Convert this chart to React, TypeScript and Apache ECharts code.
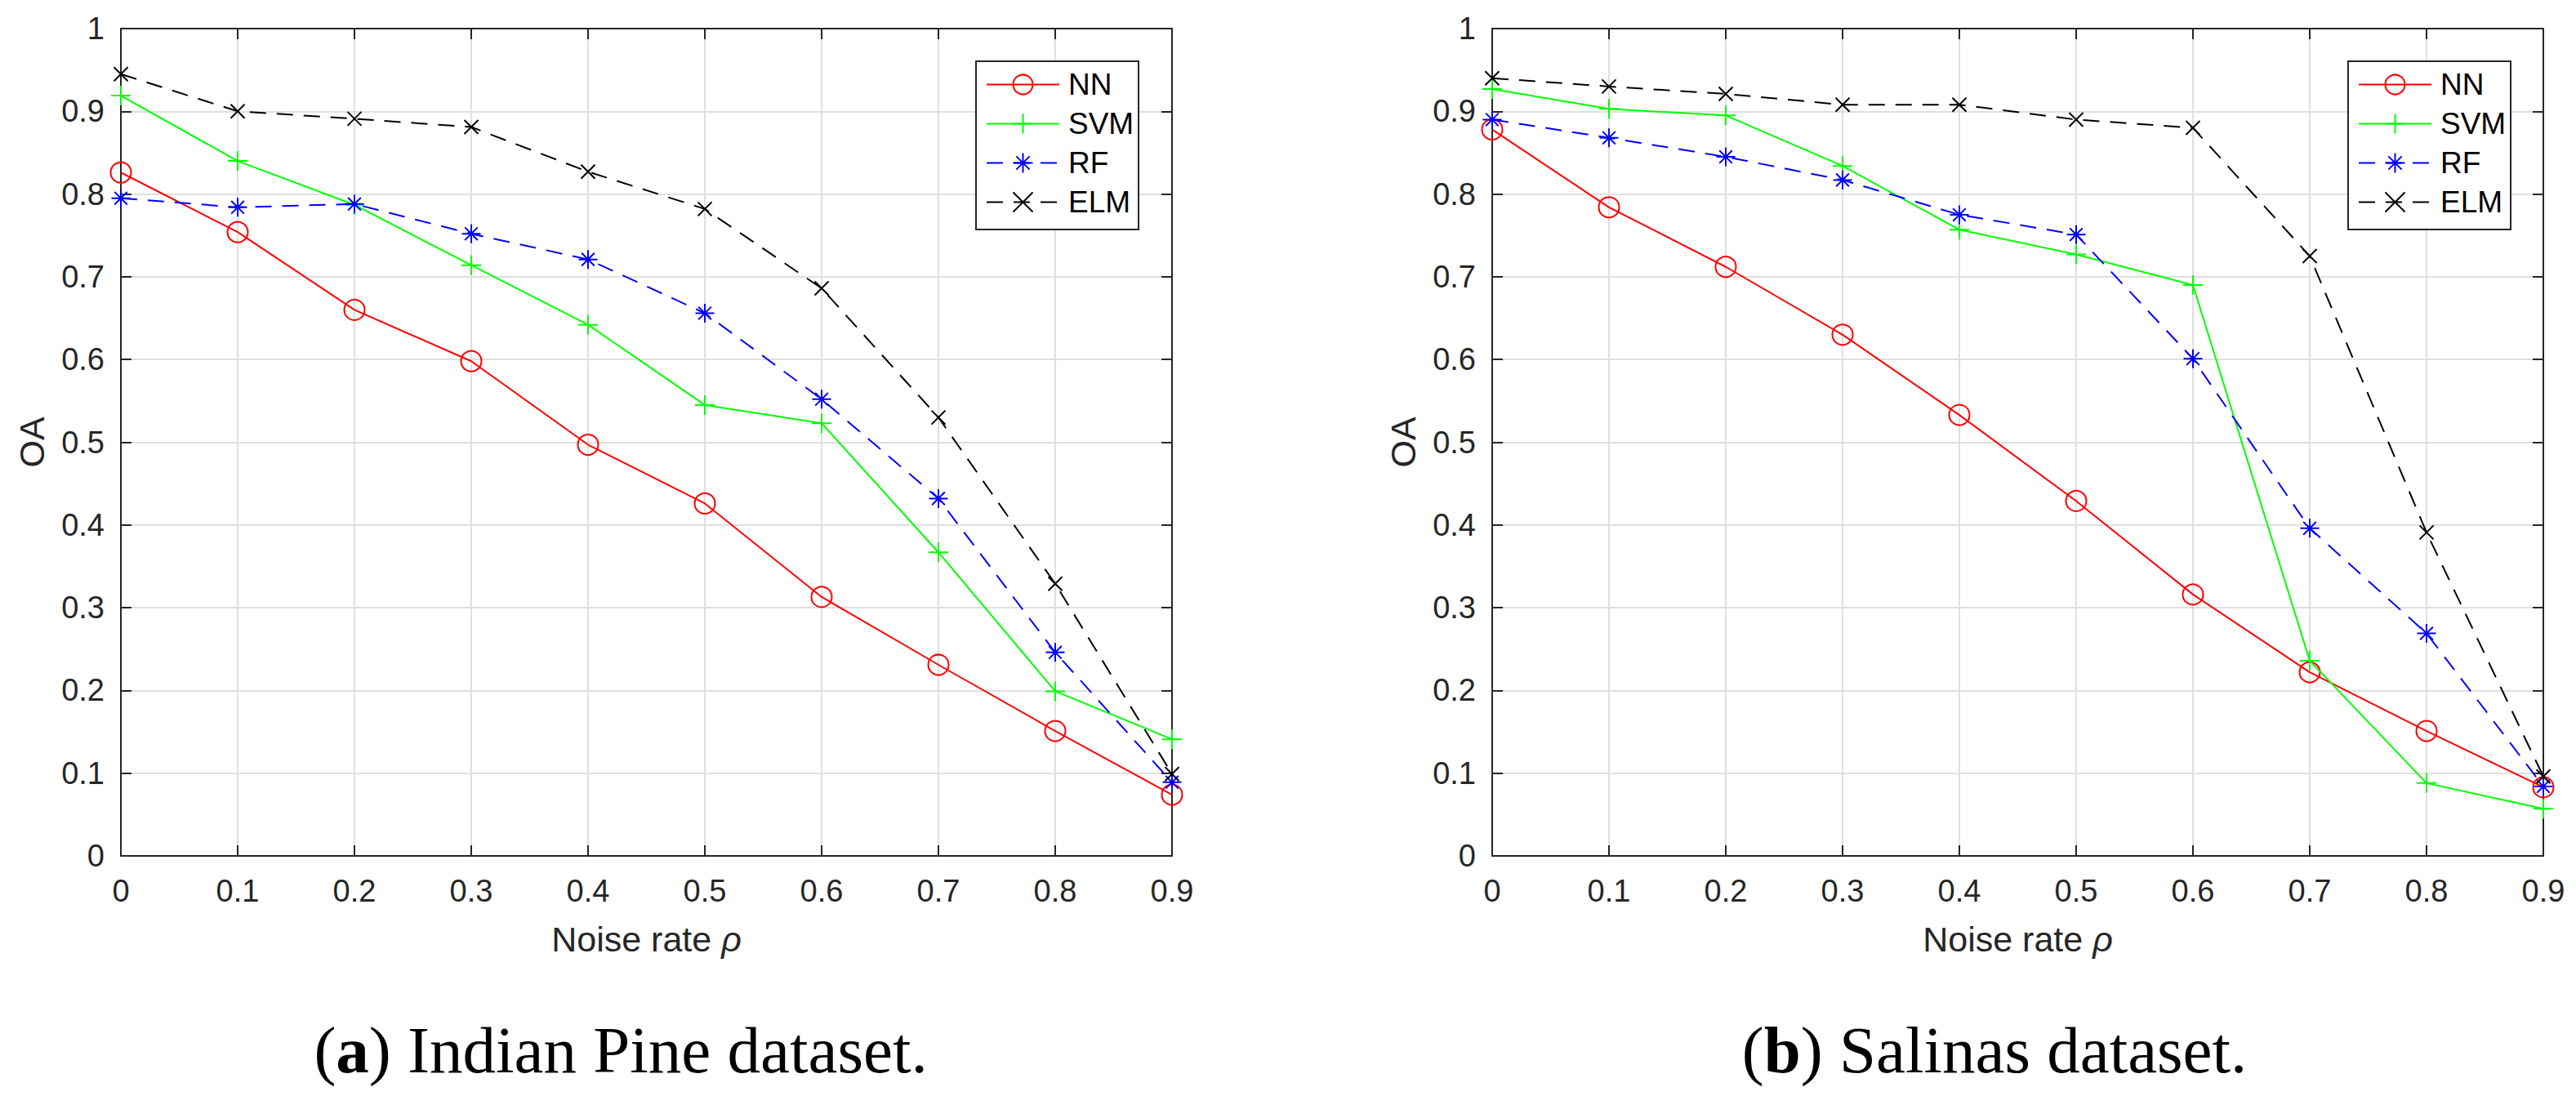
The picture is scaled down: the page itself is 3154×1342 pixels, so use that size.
import React, { useEffect, useRef } from "react";
import * as echarts from "echarts";

const noiseRates = [0, 0.1, 0.2, 0.3, 0.4, 0.5, 0.6, 0.7, 0.8, 0.9];
const seriesNames = ["NN", "SVM", "RF", "ELM"];

// (a) Indian Pine dataset
const nnIndian = [0.826, 0.754, 0.66, 0.598, 0.497, 0.426, 0.313, 0.231, 0.151, 0.074];
const svmIndian = [0.919, 0.84, 0.787, 0.714, 0.642, 0.545, 0.523, 0.367, 0.199, 0.141];
const rfIndian = [0.795, 0.784, 0.788, 0.752, 0.721, 0.656, 0.552, 0.432, 0.246, 0.089];
const elmIndian = [0.945, 0.9, 0.891, 0.881, 0.827, 0.782, 0.686, 0.53, 0.329, 0.099];

// (b) Salinas dataset
const nnSalinas = [0.878, 0.784, 0.712, 0.63, 0.533, 0.429, 0.316, 0.222, 0.151, 0.083];
const svmSalinas = [0.927, 0.903, 0.895, 0.834, 0.757, 0.727, 0.69, 0.236, 0.088, 0.057];
const rfSalinas = [0.89, 0.868, 0.845, 0.817, 0.775, 0.751, 0.601, 0.396, 0.269, 0.084];
const elmSalinas = [0.94, 0.93, 0.921, 0.908, 0.908, 0.89, 0.88, 0.725, 0.391, 0.096];

const captionLetters = ["a", "b"];
const captionTexts = [") Indian Pine dataset.", ") Salinas dataset."];

const AX = "#262626";
const GRID = "#dfdfdf";
const SANS = "Liberation Sans";

const styles: Record<string, any> = {
  NN: { color: "#ff0000", symbol: "circle", size: 25, dash: "solid" },
  SVM: { color: "#00ff00", symbol: "path://M0,5L10,5M5,0L5,10", size: 24, dash: "solid" },
  RF: {
    color: "#0000ff",
    symbol: "path://M0,5L10,5M5,0L5,10M1.6,1.6L8.4,8.4M1.6,8.4L8.4,1.6",
    size: 23,
    dash: [20, 13],
  },
  ELM: { color: "#000000", symbol: "path://M0,0L10,10M0,10L10,0", size: 17, dash: [20, 13] },
};

const fmt = (v: number) => String(Math.round(v * 10) / 10);

export default function App() {
  const ref = useRef<HTMLDivElement>(null);
  useEffect(() => {
    if (!ref.current) return;
    const chart = echarts.init(ref.current, undefined, { renderer: "svg" });
    const gridLefts = [148, 1827];
    const gridTop = 35;
    const gridW = 1287;
    const gridH = 1013;

    const grids = gridLefts.map((l) => ({ left: l, top: gridTop, width: gridW, height: gridH }));
    const xAxes: any[] = [];
    const yAxes: any[] = [];
    gridLefts.forEach((_, g) => {
      xAxes.push({
        type: "value",
        gridIndex: g,
        min: 0,
        max: 0.9,
        interval: 0.1,
        position: "bottom",
        name: "{a|Noise rate }{b|ρ}",
        nameLocation: "middle",
        nameGap: 80,
        nameTextStyle: {
          rich: {
            a: { fontFamily: SANS, fontSize: 43, color: AX },
            b: { fontFamily: SANS, fontSize: 43, color: AX, fontStyle: "italic" },
          },
        },
        axisLine: { show: true, onZero: false, lineStyle: { color: AX, width: 2 } },
        axisTick: { show: true, inside: true, length: 13, lineStyle: { color: AX, width: 2 } },
        axisLabel: { fontFamily: SANS, fontSize: 38, color: AX, margin: 24, formatter: fmt },
        splitLine: { show: true, lineStyle: { color: GRID, width: 2 } },
      });
      xAxes.push({
        type: "value",
        gridIndex: g,
        min: 0,
        max: 0.9,
        interval: 0.1,
        position: "top",
        axisLine: { show: true, onZero: false, lineStyle: { color: AX, width: 2 } },
        axisTick: { show: true, inside: true, length: 13, lineStyle: { color: AX, width: 2 } },
        axisLabel: { show: false },
        splitLine: { show: false },
      });
      yAxes.push({
        type: "value",
        gridIndex: g,
        min: 0,
        max: 1,
        interval: 0.1,
        position: "left",
        name: "OA",
        nameLocation: "middle",
        nameGap: 88,
        nameTextStyle: { fontFamily: SANS, fontSize: 43, color: AX },
        axisLine: { show: true, onZero: false, lineStyle: { color: AX, width: 2 } },
        axisTick: { show: true, inside: true, length: 13, lineStyle: { color: AX, width: 2 } },
        axisLabel: { fontFamily: SANS, fontSize: 38, color: AX, margin: 20, formatter: fmt },
        splitLine: { show: true, lineStyle: { color: GRID, width: 2 } },
      });
      yAxes.push({
        type: "value",
        gridIndex: g,
        min: 0,
        max: 1,
        interval: 0.1,
        position: "right",
        axisLine: { show: true, onZero: false, lineStyle: { color: AX, width: 2 } },
        axisTick: { show: true, inside: true, length: 13, lineStyle: { color: AX, width: 2 } },
        axisLabel: { show: false },
        splitLine: { show: false },
      });
    });

    const datasets = [
      [nnIndian, svmIndian, rfIndian, elmIndian],
      [nnSalinas, svmSalinas, rfSalinas, elmSalinas],
    ];
    const series: any[] = [];
    datasets.forEach((set, g) => {
      set.forEach((vals, i) => {
        const name = seriesNames[i];
        const s = styles[name];
        series.push({
          type: "line",
          name,
          xAxisIndex: g * 2,
          yAxisIndex: g * 2,
          data: noiseRates.map((x, k) => [x, vals[k]]),
          symbol: s.symbol,
          symbolSize: s.size,
          showAllSymbol: true,
          itemStyle: { color: "transparent", borderColor: s.color, borderWidth: 2 },
          lineStyle: { color: s.color, width: 2, type: s.dash },
          emphasis: { disabled: true },
          z: 2 + i,
          clip: false,
        });
      });
    });

    const legendBoxes = [1195, 2875];
    const legends = legendBoxes.map((bx) => ({
      show: true,
      orient: "vertical",
      left: bx + 12,
      top: 85,
      padding: 0,
      itemGap: 11,
      itemWidth: 89,
      itemHeight: 30,
      data: seriesNames,
      selectedMode: false,
      z: 10,
      textStyle: { fontFamily: SANS, fontSize: 37, color: "#000", padding: [0, 0, 0, 6] },
    }));

    const graphics: any[] = [];
    legendBoxes.forEach((bx) => {
      graphics.push({
        type: "rect",
        shape: { x: bx, y: 75, width: 199, height: 206 },
        style: { fill: "#ffffff", stroke: AX, lineWidth: 2 },
        z: 8,
      });
    });
    const capCenters = [760, 2442];
    capCenters.forEach((cx, i) => {
      graphics.push({
        type: "text",
        x: cx,
        y: 1286,
        z: 10,
        style: {
          text: `{p|(}{b|${captionLetters[i]}}{p|${captionTexts[i]}}`,
          align: "center",
          verticalAlign: "middle",
          rich: {
            p: { fontFamily: "Liberation Serif", fontSize: 81, fill: "#000" },
            b: { fontFamily: "Liberation Serif", fontSize: 81, fontWeight: "bold", fill: "#000" },
          },
        },
      });
    });

    chart.setOption({
      animation: false,
      backgroundColor: "#ffffff",
      grid: grids,
      xAxis: xAxes,
      yAxis: yAxes,
      legend: legends,
      series,
      graphic: graphics,
    });
    return () => chart.dispose();
  }, []);
  return (
    <div
      ref={ref}
      style={{ position: "absolute", left: 0, top: 0, width: 3154, height: 1342, background: "#fff" }}
    />
  );
}
